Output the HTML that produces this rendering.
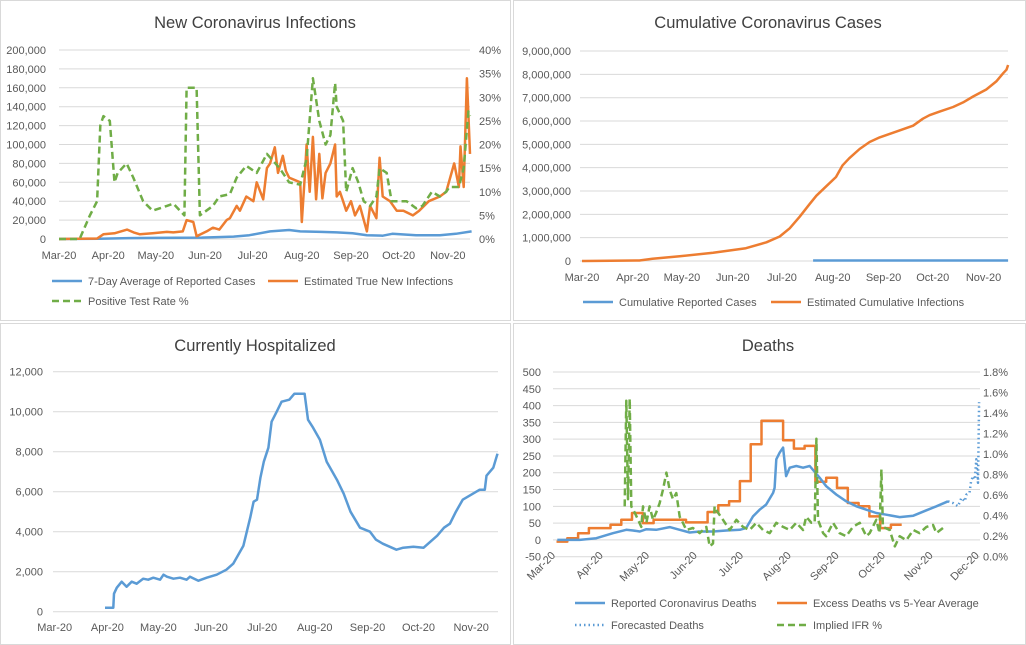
<!DOCTYPE html>
<html><head><meta charset="utf-8"><style>
body{margin:0;background:#fff;}
svg{display:block;font-family:"Liberation Sans",Arial,sans-serif;}
.t{font-size:11px;fill:#595959;}
.title{font-size:16.5px;fill:#404040;}
.lg{font-size:11px;fill:#595959;}
</style></head><body>
<svg id="s" width="1026" height="645" viewBox="0 0 1026 645">
<rect x="0.5" y="0.5" width="510" height="320" fill="#fff" stroke="#d9d9d9"/>
<rect x="513.5" y="0.5" width="512" height="320" fill="#fff" stroke="#d9d9d9"/>
<rect x="0.5" y="323.5" width="510" height="321" fill="#fff" stroke="#d9d9d9"/>
<rect x="513.5" y="323.5" width="512" height="321" fill="#fff" stroke="#d9d9d9"/>
<text class="title" x="255" y="28" text-anchor="middle">New Coronavirus Infections</text>
<text class="title" x="768" y="28" text-anchor="middle">Cumulative Coronavirus Cases</text>
<text class="title" x="255" y="351" text-anchor="middle">Currently Hospitalized</text>
<text class="title" x="768" y="351" text-anchor="middle">Deaths</text>
</svg>
<script>
const months=["Mar-20","Apr-20","May-20","Jun-20","Jul-20","Aug-20","Sep-20","Oct-20","Nov-20"];
const monthsBR=["Mar-20","Apr-20","May-20","Jun-20","Jul-20","Aug-20","Sep-20","Oct-20","Nov-20","Dec-20"];
const monthDays=[0,31,61,92,122,153,184,214,245,275];
// Panel 1: new infections
const p1BlueDays=[0,25,40,60,90,110,120,133,145,152,165,175,185,194,204,210,225,240,250,260];
const p1BlueVals=[0,300,800,1200,1500,2500,4000,8000,9500,8000,7500,7000,6000,4000,3500,5500,4000,4000,5500,8000];
const p1OrDays=[0,24,28,35,43,47,51,59,68,72,78,80.4,84.6,86.7,93,97,101,105.6,107.7,112,114,118,122.5,124.6,128.7,131,133,136,138,141,143,145,152,153,155,156,158,160,162,164,166,168,171,174,175,177,179,181,184,186.5,189.6,194,196,200,202,204,208.6,212.8,217,223,227,233,240,244,249,252,253,255,257,259];
const p1OrVals=[0,500,5000,6000,10000,7000,5000,6000,7500,7000,8000,20000,18000,3000,8000,12000,10000,20000,22000,35000,30000,45000,40000,60000,42000,75000,80000,97000,70000,88000,72000,65000,60000,18000,70000,100000,50000,108000,42000,90000,43000,70000,80000,100000,45000,50000,40000,30000,40000,25000,35000,8000,35000,22000,86000,45000,40000,30000,30000,25000,30000,40000,45000,50000,80000,55000,98000,55000,170000,90000];
const p1GrDays=[0,13,19.5,24,26,28,32,35,37,42.6,46.8,53,59,68,72,79,80.4,86.7,88.8,97,101,107.7,112,118,124.6,131,139,145,152,156,160,164,168,171,174,175,179,181,185,188.6,192,196,200,202,206.5,209.6,215,219,225,229,235,240,244,246,252,255,258,259];
const p1GrVals=[0,0,5,8,24,26,25,12,14,16,13,8,6,7,7.5,5,32,32,5,7,9,9.5,13,15.5,14,18,15,12,11.5,17,34,25,20,22,33,28,25,10,15,12,8,7,9,15,14,8,8,8,6.5,7,10,9,10,11,11,15,27,26];
const p1YTicks=[0,20000,40000,60000,80000,100000,120000,140000,160000,180000,200000];
const p1RTicks=["0%","5%","10%","15%","20%","25%","30%","35%","40%"];
// Panel 2: cumulative
const p2BlueDays=[141,260];
const p2BlueVals=[0.02,0.02];
const p2OrDays=[0,1.6,35,43,59.6,80,100,112.5,120.6,126.7,132.8,139,143,149,155,159,163,169.4,175.5,181.6,187.7,193.8,202,208,212,218,226.4,232.5,238.6,246.7,252.8,257,259,260];
const p2OrVals=[0,0,0.02,0.1,0.2,0.35,0.55,0.8,1.05,1.4,1.9,2.45,2.8,3.2,3.6,4.1,4.4,4.8,5.1,5.3,5.45,5.6,5.8,6.1,6.25,6.4,6.6,6.8,7.05,7.35,7.7,8.05,8.2,8.4];
const p2YTicks=["0","1,000,000","2,000,000","3,000,000","4,000,000","5,000,000","6,000,000","7,000,000","8,000,000","9,000,000"];
// Panel 3: hospitalized
const p3Days=[29.6,34.5,34.9,36.5,39.4,42.3,45.3,48.2,52,55,58,62,64,66,69.8,73.7,77.6,79.6,84.5,89.4,93.3,95.3,101,105,107,111,113,115,117,119,121,123,125.7,127.6,130.6,133.5,138,141,147,149,152,156,160,166,170,174,179.6,185.5,189,193,201,205,211,217,221,225,229,232.5,236,240,246,250,253,254,258,260.5];
const p3Vals=[200,200,900,1200,1500,1250,1500,1400,1650,1600,1700,1600,1850,1750,1650,1700,1600,1750,1550,1700,1800,1850,2100,2400,2700,3300,4000,4700,5500,5600,6700,7500,8200,9500,10000,10500,10600,10900,10900,9600,9200,8600,7500,6600,5900,5000,4200,4000,3600,3400,3100,3200,3250,3200,3500,3800,4200,4400,5000,5600,5900,6100,6100,6800,7200,7900];
const p3YTicks=[0,2000,4000,6000,8000,10000,12000];
// Panel 4: deaths
const p4BlueDays=[1.5,16,26.8,37.6,46.3,50.6,55,59.3,65.7,74.4,80.9,87.4,93.9,102.5,111.2,119.9,124,128.5,132.8,137,141.5,142.5,143.6,145.8,148,150,152.3,156.6,161,165.3,171.8,176,182.6,189,195.5,202,208.5,215,223.7,232.5,241,247.5,255];
const p4BlueVals=[0,0,5,20,30,28,25,32,30,38,30,22,25,25,28,30,35,70,90,105,140,155,240,260,275,190,215,220,215,220,185,160,135,115,100,90,80,75,68,72,88,100,115];
const p4FcDays=[255,258.3,261.5,263.7,265.9,267,269,270,271.3,272.4,273.4,274.5,275.2];
const p4FcVals=[115,110,100,125,115,135,140,175,190,180,240,170,410];
const p4ExcessStart=1;
const p4ExcessWeekly=[-5,5,20,35,35,45,60,80,50,60,60,60,52,52,83,103,115,175,285,355,355,297,272,280,173,185,155,110,100,70,35,45];
const p4IfrDays=[45.2,46.3,47.4,48.5,49.5,51.7,53.9,56,57.1,59.3,61.4,63.6,65.7,67.9,70,72.3,74.4,76.6,78.7,80.9,83,85.2,89.5,93.9,98.2,100.4,102.5,103.6,105.8,109,113.4,117.7,122,126.3,130.6,135,139.3,143.6,148,152.3,156.6,161,163,166.4,168.5,169.6,170.7,174,176,180.4,184.7,189,193.4,197.7,202,204.2,208.5,210.6,211.8,212.8,217.2,220.5,223.7,228,232.5,236.6,241,245.3,247.5,251.8,254];
const p4IfrVals=[0.49,1.52,0.56,1.54,0.49,0.43,0.36,0.29,0.49,0.33,0.49,0.36,0.43,0.52,0.65,0.82,0.65,0.56,0.62,0.39,0.33,0.26,0.28,0.23,0.29,0.10,0.13,0.49,0.43,0.36,0.26,0.36,0.29,0.26,0.33,0.26,0.23,0.33,0.29,0.26,0.33,0.26,0.39,0.33,0.33,1.15,0.36,0.23,0.20,0.33,0.23,0.20,0.29,0.33,0.20,0.23,0.36,0.23,0.85,0.29,0.26,0.10,0.20,0.16,0.26,0.23,0.29,0.31,0.23,0.28,0.26];
const p4YTicks=[-50,0,50,100,150,200,250,300,350,400,450,500];
const p4RTicks=["0.0%","0.2%","0.4%","0.6%","0.8%","1.0%","1.2%","1.4%","1.6%","1.8%"];

const svg=document.getElementById('s');
const NS='http://www.w3.org/2000/svg';
function mk(tag,attrs,txt){const e=document.createElementNS(NS,tag);for(const k in attrs)e.setAttribute(k,attrs[k]);if(txt!==undefined)e.textContent=txt;svg.appendChild(e);return e;}
function fmt(v){return v.toLocaleString('en-US');}
function pathD(days,vals,xf,yf){return days.map((d,i)=>(i?'L':'M')+xf(d).toFixed(1)+' '+yf(vals[i]).toFixed(1)).join(' ');}
function gridH(y,x1,x2){const g=mk('line',{x1:x1,x2:x2,y1:y,y2:y,stroke:'#d9d9d9','stroke-width':1});

}
function lbl(x,y,txt,anchor,name){const t=mk('text',{x:x,y:y,'text-anchor':anchor,class:'t'},txt);

return t;}
function series(d,color,w,dash,name){const p=mk('path',{d:d,fill:'none',stroke:color,'stroke-width':w,'stroke-linejoin':'round'});if(dash)p.setAttribute('stroke-dasharray',dash);

return p;}
function legend(x,y,color,dash,txt,name){const l=mk('line',{x1:x,x2:x+30,y1:y,y2:y,stroke:color,'stroke-width':2.5});if(dash)l.setAttribute('stroke-dasharray',dash);


const t=mk('text',{x:x+36,y:y+4,class:'lg'},txt);

}
const BLUE='#5b9bd5',OR='#ed7d31',GR='#70ad47';

// Panel 1
{const x=d=>59+d*1.587, y=v=>239-v/200000*189, yr=p=>239-p/40*189;
p1YTicks.forEach(v=>{gridH(y(v),59,470);lbl(46,y(v)+4,fmt(v),'end','y-tick-label');});
p1RTicks.forEach((s,i)=>lbl(479,yr(i*5)+4,s,'start','y2-tick-label'));
months.forEach((m,i)=>lbl(x(monthDays[i]),259,m,'middle','x-tick-label'));
series(pathD(p1BlueDays,p1BlueVals,x,y),BLUE,2.5,null,'reported-cases-line');
series(pathD(p1OrDays,p1OrVals,x,y),OR,2.5,null,'true-infections-line');
series(pathD(p1GrDays,p1GrVals,x,yr),GR,2.5,'7 4','positive-rate-line');
legend(52,281,BLUE,null,'7-Day Average of Reported Cases','legend-reported-cases');
legend(268,281,OR,null,'Estimated True New Infections','legend-true-infections');
legend(52,301,GR,'7 4','Positive Test Rate %','legend-positive-rate');}

// Panel 2
{const x=d=>582+d*1.639, y=v=>261-v*23.33;
p2YTicks.forEach((s,i)=>{gridH(y(i),580,1008);lbl(571,y(i)+4,s,'end','y-tick-label');});
months.forEach((m,i)=>lbl(x(monthDays[i]),281,m,'middle','x-tick-label'));
series(pathD(p2BlueDays,p2BlueVals,x,y),BLUE,2.5,null,'cumulative-reported-line');
series(pathD(p2OrDays,p2OrVals,x,y),OR,2.5,null,'cumulative-infections-line');
legend(583,302,BLUE,null,'Cumulative Reported Cases','legend-cumulative-reported');
legend(771,302,OR,null,'Estimated Cumulative Infections','legend-cumulative-infections');}

// Panel 3
{const x=d=>54.7+d*1.70, y=v=>611.7-v/12000*240;
p3YTicks.forEach(v=>{gridH(y(v),53,498);lbl(43,y(v)+4,fmt(v),'end','y-tick-label');});
months.forEach((m,i)=>lbl(x(monthDays[i]),631,m,'middle','x-tick-label'));
series(pathD(p3Days,p3Vals,x,y),BLUE,2.5,null,'hospitalized-line');}

// Panel 4
{const x=d=>555+d*1.541, y=v=>372+(500-v)*0.3358, yr=p=>556.7-p*102.6;
p4YTicks.forEach(v=>{gridH(y(v),553,980);lbl(541,y(v)+4,String(v),'end','y-tick-label');});
p4RTicks.forEach((s,i)=>lbl(983,yr(i*0.2)+4,s,'start','y2-tick-label'));
monthsBR.forEach((m,i)=>{const tx=x(monthDays[i])+1,ty=556;const t=lbl(tx,ty,m,'end','x-tick-label');t.setAttribute('transform','rotate(-45 '+tx+' '+ty+')');});
let d='';p4ExcessWeekly.forEach((v,i)=>{const d0=p4ExcessStart+7*i,d1=d0+7;d+=(i?'L':'M')+x(d0).toFixed(1)+' '+y(v).toFixed(1)+'L'+x(d1).toFixed(1)+' '+y(v).toFixed(1);});
series(d,OR,2.5,null,'excess-deaths-line');
series(pathD(p4BlueDays,p4BlueVals,x,y),BLUE,2.5,null,'reported-deaths-line');
series(pathD(p4FcDays,p4FcVals,x,y),BLUE,2.5,'1.5 3','forecasted-deaths-line');
series(pathD(p4IfrDays,p4IfrVals,x,yr),GR,2.5,'7 4','implied-ifr-line');
legend(575,603,BLUE,null,'Reported Coronavirus Deaths','legend-reported-deaths');
legend(777,603,OR,null,'Excess Deaths vs 5-Year Average','legend-excess-deaths');
legend(575,625,BLUE,'1.5 3','Forecasted Deaths','legend-forecasted-deaths');
legend(777,625,GR,'7 4','Implied IFR %','legend-implied-ifr');}
</script>
</body></html>
